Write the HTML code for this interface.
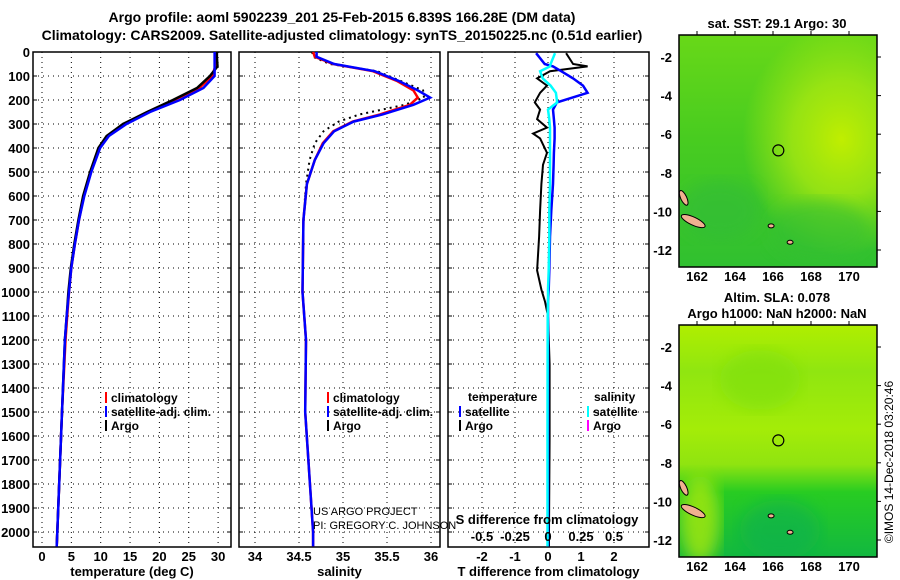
<!DOCTYPE html>
<html><head><meta charset="utf-8"><style>
body{margin:0;background:#fff;}
svg{display:block;font-family:"Liberation Sans",sans-serif;}
.b{font-weight:bold;font-size:13px;}
.t{font-weight:bold;font-size:14px;}
</style></head><body>
<svg id="c" width="900" height="580">
<defs>
<radialGradient id="sstY" cx="0.82" cy="0.45" r="0.5"><stop offset="0" stop-color="#c0ee00"/><stop offset="0.5" stop-color="#a8e810" stop-opacity="0.8"/><stop offset="1" stop-color="#a8e810" stop-opacity="0"/></radialGradient>
<linearGradient id="sstV" x1="0" y1="0" x2="0" y2="1"><stop offset="0" stop-color="#68d818"/><stop offset="0.45" stop-color="#48cc20"/><stop offset="1" stop-color="#30c030"/></linearGradient>
<linearGradient id="slaG" x1="0" y1="0" x2="0" y2="1"><stop offset="0" stop-color="#b0ee00"/><stop offset="0.2" stop-color="#90e610"/><stop offset="0.45" stop-color="#a4ec08"/><stop offset="0.6" stop-color="#90e410"/><stop offset="0.72" stop-color="#28cc22"/><stop offset="1" stop-color="#12b840"/></linearGradient>
<filter id="bl"><feGaussianBlur stdDeviation="8"/></filter>
<clipPath id="m1c"><rect x="679" y="35" width="198" height="232"/></clipPath>
<clipPath id="m2c"><rect x="679" y="325" width="198" height="232"/></clipPath>
</defs>
<g id="root"></g>
</svg>
<script>
// ---- data ----
const depthTicks=[0,100,200,300,400,500,600,700,800,900,1000,1100,1200,1300,1400,1500,1600,1700,1800,1900,2000];
const tempTicks=[0,5,10,15,20,25,30];
const salTicks=[34,34.5,35,35.5,36];
const tdiffTicks=[-2,-1,0,1,2];
const sdiffTicks=[-0.5,-0.25,0,0.25,0.5];
const sdiffLabels=["-0.5","-0.25","0","0.25","0.5"];
const tDepth=[0,20,60,100,150,200,250,300,350,400,500,600,700,800,900,1000,1100,1200,1500,2000,2060];
const tArgo=[29.8,29.8,29.9,28.6,26.4,22.3,17.9,13.8,11.0,9.6,8.2,7.0,6.2,5.5,4.9,4.5,4.2,3.9,3.4,2.6,2.5];
const tClim=[29.6,29.6,29.5,29.0,26.8,22.5,18.0,14.0,11.2,9.8,8.3,7.1,6.3,5.6,5.0,4.6,4.3,4.0,3.4,2.6,2.5];
const tSat=[29.4,29.4,29.4,29.4,27.5,23.5,18.4,14.4,11.4,9.9,8.4,7.2,6.3,5.6,5.0,4.6,4.2,3.9,3.4,2.6,2.5];
const sDepth=[0,20,50,80,120,160,190,220,260,290,330,380,450,550,700,1000,1200,1500,2000,2060];
const sArgo=[34.65,34.66,34.85,35.39,35.65,35.91,35.92,35.7,35.19,34.95,34.78,34.68,34.62,34.58,34.55,34.54,34.58,34.57,34.66,34.66];
const sClim=[34.66,34.68,34.89,35.34,35.61,35.8,35.85,35.76,35.42,35.11,34.89,34.77,34.68,34.59,34.55,34.54,34.58,34.57,34.66,34.66];
const sSat=[34.7,34.7,34.9,35.36,35.63,35.85,35.99,35.8,35.45,35.12,34.9,34.78,34.68,34.59,34.55,34.54,34.58,34.57,34.66,34.66];
const dDepth=[5,50,60,80,110,140,170,210,240,280,315,340,360,420,470,550,660,770,910,990,1040,1100,1300,1600,2000,2060];
const dTArgo=[0.55,0.76,1.2,0.06,-0.33,-0.03,-0.24,-0.4,-0.24,-0.33,-0.03,-0.45,-0.24,-0.03,-0.15,-0.2,-0.24,-0.27,-0.33,-0.2,-0.09,0,0.05,0.05,0.03,0.03];
const dTSat=[-0.36,-0.1,0.15,0.4,0.76,1.06,1.2,0.27,0.15,0.18,0.2,0.2,0.2,0.18,0.17,0.15,0.1,0.06,0.04,0.02,0.0,0,0,0,0,0];
const dSSat=[0.053,0.02,0.015,-0.06,-0.04,0.02,0.06,0.07,0.0,0.01,0.015,0.015,0.015,0.015,0.015,0.015,0.01,0.01,0.005,0.0,0,-0.002,-0.003,-0.004,-0.004,-0.004];
const latTicks=[-2,-4,-6,-8,-10,-12];
const lonTicks=[162,164,166,168,170];
const floatLon=166.28, floatLat=-6.839;
// ---- scales ----
const Y=d=>52+d*0.24;
const XT=v=>42+v*5.87;
const XS=v=>255+(v-34)*88;
const XD=v=>548+v*33;
const XSD=v=>548+v*132;
const LON=v=>697+(v-162)*19;
const LAT1=v=>57+(-2-v)*19.3;
const LAT2=v=>347+(-2-v)*19.3;
const NS="http://www.w3.org/2000/svg";
const root=document.getElementById('root');
function mk(tag,at,txt,parent){const e=document.createElementNS(NS,tag);for(const k in at)e.setAttribute(k,at[k]);if(txt!==undefined)e.textContent=txt;(parent||root).appendChild(e);return e;}
function line(xs,ys,col,w,dash,name){const pts=xs.map((x,i)=>x.toFixed(1)+','+ys[i].toFixed(1)).join(' ');const p=mk('polyline',{points:pts,fill:'none',stroke:col,'stroke-width':w});if(dash)p.setAttribute('stroke-dasharray',dash);

return p;}
// titles
let e=mk('text',{x:342,y:22,'text-anchor':'middle',class:'t'},'Argo profile: aoml 5902239_201 25-Feb-2015 6.839S 166.28E (DM data)');


e=mk('text',{x:342,y:40,'text-anchor':'middle',class:'t'},'Climatology: CARS2009. Satellite-adjusted climatology: synTS_20150225.nc (0.51d earlier)');


// panels
const panels=[{x0:33,x1:231,ticks:tempTicks,sc:XT,lab:'temperature (deg C)',name:'temperature-panel'},
{x0:239,x1:440,ticks:salTicks,sc:XS,lab:'salinity',name:'salinity-panel'},
{x0:448,x1:649,ticks:tdiffTicks,sc:XD,lab:'T difference from climatology',name:'difference-panel'}];
const yb=547;
panels.forEach((p,pi)=>{
 depthTicks.forEach(d=>{const g=mk('line',{x1:p.x0,x2:p.x1,y1:Y(d),y2:Y(d),stroke:'#000','stroke-width':1,'stroke-dasharray':'1,4'});
 
 
 mk('line',{x1:p.x0,x2:p.x0+4,y1:Y(d),y2:Y(d),stroke:'#000'});mk('line',{x1:p.x1-4,x2:p.x1,y1:Y(d),y2:Y(d),stroke:'#000'});});
 p.ticks.forEach(v=>{const x=p.sc(v);const g=mk('line',{x1:x,x2:x,y1:52,y2:yb,stroke:'#000','stroke-dasharray':'1,4'});
 
 
 const t=mk('text',{x:x,y:561,'text-anchor':'middle',class:'b'},String(v));
 
 });
 const r=mk('rect',{x:p.x0,y:52,width:p.x1-p.x0,height:yb-52,fill:'none',stroke:'#000','stroke-width':1.5});
 
 
 const l=mk('text',{x:(p.x0+p.x1)/2,y:576,'text-anchor':'middle',class:'b'},p.lab);
 
 
});
depthTicks.forEach(d=>{const t=mk('text',{x:30,y:Y(d)+5,'text-anchor':'end',class:'b'},String(d));

});
// temperature
line(tClim.map(XT),tDepth.map(Y),'#f00',2.5,null,'temp-climatology-line');
line(tArgo.map(XT),tDepth.map(Y),'#000',2.5,null,'temp-argo-line');
line(tSat.map(XT),tDepth.map(Y),'#00f',2.5,null,'temp-satellite-line');
// salinity
line(sArgo.map(XS),sDepth.map(Y),'#000',2,'2,4','sal-argo-line');
line(sClim.map(XS),sDepth.map(Y),'#f00',2.5,null,'sal-climatology-line');
line(sSat.map(XS),sDepth.map(Y),'#00f',2.5,null,'sal-satellite-line');
// diffs
line(dTArgo.map(XD),dDepth.map(Y),'#000',2,null,'tdiff-argo-line');
line(dTSat.map(XD),dDepth.map(Y),'#00f',2.5,null,'tdiff-satellite-line');
line(dSSat.map(XSD),dDepth.map(Y),'#0ff',2.5,null,'sdiff-satellite-line');
// S diff axis labels
mk('text',{x:547,y:524,'text-anchor':'middle',class:'b'},'S difference from climatology');
sdiffTicks.forEach((v,i)=>{const t=mk('text',{x:XSD(v),y:541,'text-anchor':'middle',class:'b'},sdiffLabels[i]);

});
// legends
function leg(x,y,col,txt,name){mk('rect',{x:x,y:y-10,width:2,height:11,fill:col});const t=mk('text',{x:x+6,y:y,class:'b',style:'font-size:12px'},txt);

}
leg(105,402,'#f00','climatology','legend-climatology');leg(105,416,'#00f','satellite-adj. clim.','legend-satellite');leg(105,430,'#000','Argo','legend-argo');
leg(327,402,'#f00','climatology','legend-climatology-2');leg(327,416,'#00f','satellite-adj. clim.','legend-satellite-2');leg(327,430,'#000','Argo','legend-argo-2');
mk('text',{x:468,y:401,class:'b',style:'font-size:12px'},'temperature');
leg(459,416,'#00f','satellite','legend-t-satellite');leg(459,430,'#000','Argo','legend-t-argo');
mk('text',{x:594,y:401,class:'b',style:'font-size:12px'},'salinity');
leg(587,416,'#0ff','satellite','legend-s-satellite');leg(587,430,'#f0f','Argo','legend-s-argo');
mk('text',{x:313,y:515,style:'font-size:11px'},'US ARGO PROJECT');
mk('text',{x:313,y:529,style:'font-size:11px'},'PI: GREGORY C. JOHNSON');
// maps
function map(y0,LATF,fill,title,clip,name){
 const g=mk('g',{'clip-path':'url(#'+clip+')'});
 
 
 fill(g);
 mk('ellipse',{cx:LON(161.8),cy:LATF(-10.5),rx:13,ry:4,transform:'rotate(25 '+LON(161.8)+' '+LATF(-10.5)+')',fill:'#f0b090',stroke:'#000','stroke-width':1},undefined,g);
 mk('ellipse',{cx:LON(161.3),cy:LATF(-9.3),rx:3,ry:8,transform:'rotate(-25 '+LON(161.3)+' '+LATF(-9.3)+')',fill:'#f0b090',stroke:'#000'},undefined,g);
 mk('ellipse',{cx:LON(165.9),cy:LATF(-10.75),rx:3,ry:2,fill:'#f0b090',stroke:'#000'},undefined,g);
 mk('ellipse',{cx:LON(166.9),cy:LATF(-11.6),rx:3,ry:2,fill:'#f0b090',stroke:'#000'},undefined,g);
 const c=mk('circle',{cx:LON(floatLon),cy:LATF(floatLat),r:5.5,fill:'none',stroke:'#000','stroke-width':1.2});
 
 
 mk('rect',{x:679,y:y0,width:198,height:232,fill:'none',stroke:'#000','stroke-width':1.5});
 latTicks.forEach(v=>{const t=mk('text',{x:672,y:LATF(v)+5,'text-anchor':'end',class:'b'},String(v));
 
 
 mk('line',{x1:877,x2:881,y1:LATF(v),y2:LATF(v),stroke:'#000'});});
 lonTicks.forEach(v=>{const t=mk('text',{x:LON(v),y:y0+246,'text-anchor':'middle',class:'b'},String(v));
 
 
 mk('line',{x1:LON(v),x2:LON(v),y1:y0-4,y2:y0,stroke:'#000'});});
 title.forEach((s,i)=>mk('text',{x:777,y:y0-7-(title.length-1-i)*16,'text-anchor':'middle',class:'b'},s));
}
map(35,LAT1,g=>{mk('rect',{x:679,y:35,width:198,height:232,fill:'url(#sstV)'},undefined,g);
 mk('rect',{x:679,y:35,width:198,height:232,fill:'url(#sstY)'},undefined,g);
 mk('ellipse',{cx:720,cy:210,rx:40,ry:30,fill:'#30bc38',opacity:0.6,filter:'url(#bl)'},undefined,g);
 mk('ellipse',{cx:820,cy:230,rx:50,ry:30,fill:'#34c030',opacity:0.6,filter:'url(#bl)'},undefined,g);
},['sat. SST: 29.1 Argo: 30'],'m1c','sst-map');
map(325,LAT2,g=>{mk('rect',{x:679,y:325,width:198,height:232,fill:'url(#slaG)'},undefined,g);
 mk('ellipse',{cx:760,cy:380,rx:40,ry:30,fill:'#80e010',opacity:0.7,filter:'url(#bl)'},undefined,g);
 mk('ellipse',{cx:700,cy:520,rx:20,ry:45,fill:'#a8e808',opacity:0.8,filter:'url(#bl)'},undefined,g);
 mk('ellipse',{cx:780,cy:530,rx:40,ry:30,fill:'#10b050',opacity:0.6,filter:'url(#bl)'},undefined,g);
},['Altim. SLA: 0.078','Argo h1000: NaN h2000: NaN'],'m2c','sla-map');
e=mk('text',{x:0,y:0,transform:'translate(893,462) rotate(-90)','text-anchor':'middle',style:'font-size:12px'},'©IMOS 14-Dec-2018 03:20:46');


</script>
</body></html>
